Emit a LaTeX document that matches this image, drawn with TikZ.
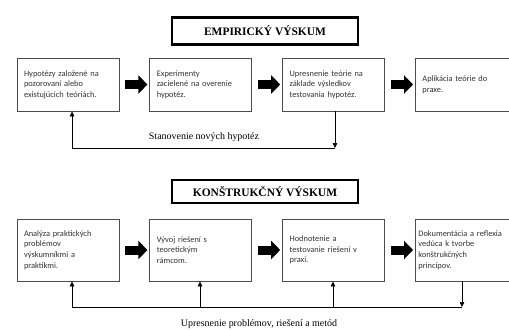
\documentclass[tikz,border=0pt]{standalone}
\usepackage{fontspec}
\setmainfont{Liberation Serif}
\newfontfamily\boxfont{Carlito}
\usetikzlibrary{arrows.meta,positioning}
\tikzset{
  stepbox/.style={draw=black!70, line width=0.8bp, text width=88bp, inner xsep=7bp, align=left,
    font=\boxfont\fontsize{8.4}{10.6}\selectfont, text=black!80},
  titlebox/.style={draw, line width=2.6bp, minimum width=186bp, align=center,
    font=\bfseries\fontsize{11.5}{13}\selectfont},
  bigarrow/.style={line width=9bp, -{Triangle[length=9bp,width=18bp]}, shorten <=6bp, shorten >=2bp},
  fbline/.style={line width=0.7bp},
  fbtip/.style={fbline, -{Triangle[length=5bp,width=4.5bp]}},
  caption/.style={font=\fontsize{10}{12}\selectfont, inner sep=0pt}
}
\begin{document}
\begin{tikzpicture}[x=1bp, y=-1bp, node distance=30bp]
  \clip (0,0) rectangle (509,329);
  \fill[white] (0,0) rectangle (509,329);

  % Empiricky vyskum
  \node[titlebox, minimum height=27bp] (emp) at (265,31) {EMPIRICKÝ VÝSKUM};
  \node[stepbox, minimum height=53bp] (hyp) at (68,84.5) {Hypotézy založené na\\pozorovaní alebo\\existujúcich teóriách.};
  \node[stepbox, minimum height=53bp, right=of hyp] (exp) {Experimenty\\zacielené na overenie\\hypotéz.};
  \node[stepbox, minimum height=53bp, right=of exp] (upr) {Upresnenie teórie na\\základe výsledkov\\testovania hypotéz.};
  \node[stepbox, minimum height=53bp, right=of upr] (apl) {Aplikácia teórie do\\praxe.};

  \draw[bigarrow] (hyp) -- (exp);
  \draw[bigarrow] (exp) -- (upr);
  \draw[bigarrow] (upr) -- (apl);

  \coordinate (fbr) at (335,148);
  \coordinate (fbl) at (72,148);
  \draw[fbtip] (upr.south -| fbr) -- (fbr);
  \draw[fbtip] (fbr) -- (fbl) -- (hyp.south -| fbl);
  \node[caption] (stan) at (204,137) {Stanovenie nových hypotéz};

  % Konstrukcny vyskum
  \node[titlebox, minimum height=23bp] (kon) at (265,191.5) {KONŠTRUKČNÝ VÝSKUM};
  \node[stepbox, minimum height=62bp] (ana) at (68,250) {Analýza praktických\\problémov\\výskumníkmi a\\praktikmi.};
  \node[stepbox, minimum height=62bp, right=of ana] (vyv) {Vývoj riešení s\\teoretickým\\rámcom.};
  \node[stepbox, minimum height=62bp, right=of vyv] (hod) {Hodnotenie a\\testovanie riešení v\\praxi.};
  \node[stepbox, minimum height=62bp, text width=96bp, inner xsep=3bp, right=of hod] (dok) {Dokumentácia a reflexia\\vedúca k tvorbe\\konštrukčných\\princípov.};

  \draw[bigarrow] (ana) -- (vyv);
  \draw[bigarrow] (vyv) -- (hod);
  \draw[bigarrow] (hod) -- (dok);

  \coordinate (f1) at (72,307);
  \coordinate (f2) at (200,307);
  \coordinate (f3) at (333,307);
  \coordinate (f4) at (462,307);
  \draw[fbline] (f1) -- (f4);
  \draw[fbtip] (f1) -- (ana.south -| f1);
  \draw[fbtip] (f2) -- (vyv.south -| f2);
  \draw[fbtip] (f3) -- (hod.south -| f3);
  \draw[fbtip] (dok.south -| f4) -- (f4);
  \node[caption] (upr2) at (259,324) {Upresnenie problémov, riešení a metód};
\end{tikzpicture}
\end{document}
